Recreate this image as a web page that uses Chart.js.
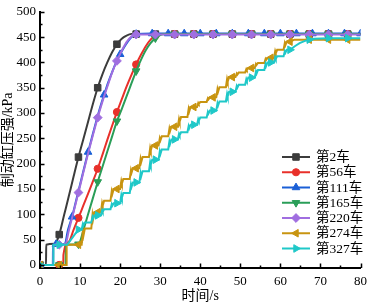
<!DOCTYPE html>
<html>
<head>
<meta charset="utf-8">
<script src="https://cdn.jsdelivr.net/npm/chart.js@4/dist/chart.umd.min.js"></script>
<style>
  html, body { margin: 0; padding: 0; background: #fff; }
  #wrap { width: 373px; height: 307px; position: relative; }
</style>
</head>
<body>
<div id="wrap"><canvas id="grafico"></canvas></div>
<script>
// series names
var nombres = ['第2车', '第56车', '第111车', '第165车', '第220车', '第274车', '第327车'];

// 第2车
var t2 = [0, 1.5, 1.55, 3.7, 4.8, 6, 7.2, 8.4, 9.6, 10.8, 12, 13.2, 14.4, 15.6, 16.8, 18, 19.2, 20.4, 21.6, 22.8, 24,
  28.8, 33.6, 38.4, 43.2, 48, 52.8, 57.6, 62.4, 67.2, 72, 76.8, 80];
var p2 = [0, 0, 40, 42, 60, 98, 136, 175, 213, 248, 283, 318, 350, 377, 400, 420, 436, 447, 453, 456, 456,
  456, 456, 456, 456, 456, 456, 456, 456, 456, 456, 456, 456];

// 第56车
var t56 = [0, 4.8, 5.8, 5.85, 7.2, 8.4, 9.6, 10.8, 12, 13.2, 14.4, 15.6, 16.8, 18, 19.2, 20.4, 21.6, 22.8, 24,
  25.2, 26.4, 27.6, 28.8, 30, 33.6, 38.4, 43.2, 48, 52.8, 57.6, 62.4, 67.2, 72, 76.8, 80];
var p56 = [0, 0, 0, 20, 46, 70, 93, 117, 141, 165, 190, 218, 247, 275, 302, 327, 352, 375, 396,
  415, 432, 445, 453, 456, 456, 456, 456, 456, 456, 456, 456, 456, 456, 456, 456];

// 第111车
var t111 = [0, 3.2, 3.25, 4, 6.2, 7, 8, 9, 10, 11, 12, 13, 14, 15, 16, 17, 18, 19, 20, 21, 22, 23, 24,
  28, 32, 36, 40, 44, 48, 52, 56, 60, 64, 68, 72, 76, 80];
var p111 = [0, 0, 40, 41, 42, 70, 95, 127, 159, 191, 223, 253, 283, 311, 336, 360, 381, 400, 416, 430, 442, 451, 456,
  457, 457, 457, 457, 457, 457, 457, 457, 457, 457, 457, 457, 457, 457];

// 第165车
var t165 = [0, 4.8, 6.4, 6.45, 9.6, 9.8, 10.8, 12, 13.2, 14.4, 15.6, 16.8, 18, 19.2, 20.4, 21.6, 22.8, 24,
  25.2, 26.4, 27.6, 28.8, 30, 31.2, 33.6, 38.4, 43.2, 48, 52.8, 57.6, 62.4, 67.2, 72, 76.8, 80];
var p165 = [0, 0, 0, 40, 41, 42, 68, 100, 132, 164, 194, 224, 254, 284, 308, 333, 358, 383,
  405, 424, 438, 448, 454, 456, 456, 456, 456, 456, 456, 456, 456, 456, 456, 456, 456];

// 第220车
var t220 = [0, 3.3, 3.35, 4.8, 6.4, 7.2, 8.4, 9.6, 10.8, 12, 13.2, 14.4, 15.6, 16.8, 18, 19.2, 20.4, 21.6, 22.8, 24,
  28.8, 33.6, 38.4, 43.2, 48, 52.8, 57.6, 62.4, 67.2, 72, 76.8, 80];
var p220 = [0, 0, 40, 40, 42, 68, 105, 143, 182, 220, 256, 291, 323, 352, 380, 403, 423, 440, 451, 455,
  455, 455, 455, 455, 455, 455, 455, 455, 455, 455, 455, 455];

// 第274车
var t274 = [0, 4.8, 6.6, 6.65, 9.6,
  10.4, 10.7, 10.85, 11.2, 12.8, 13.1, 13.25, 13.6, 14.4,
  15.2, 15.5, 15.65, 16.0, 17.6, 17.9, 18.05, 18.4, 19.2,
  20.0, 20.3, 20.45, 20.8, 22.4, 22.7, 22.85, 23.2, 24,
  24.8, 25.1, 25.25, 25.6, 27.2, 27.5, 27.65, 28.0, 28.8,
  29.6, 29.9, 30.05, 30.4, 32.0, 32.3, 32.45, 32.8, 33.6,
  34.4, 34.7, 34.85, 35.2, 36.8, 37.1, 37.25, 37.6, 38.4,
  39.2, 39.5, 39.65, 40.0, 41.6, 41.9, 42.05, 42.4, 43.2,
  44.0, 44.3, 44.45, 44.8, 46.4, 46.7, 46.85, 47.2, 48,
  48.8, 49.1, 49.25, 49.6, 51.2, 51.5, 51.65, 52.0, 52.8,
  53.6, 53.9, 54.05, 54.4, 56.0, 56.3, 56.45, 56.8, 57.6,
  58.4, 58.7, 58.85, 59.2, 60.8, 61.1, 61.25, 61.6, 62.4,
  63.5, 67.2, 72, 76.8, 80];
var p274 = [0, 0, 0, 40, 40,
  40, 66, 58, 72, 72, 98, 90, 104, 104,
  104, 122, 117, 127, 127, 145, 140, 150, 150,
  150, 166, 161, 170, 170, 187, 182, 191, 191,
  191, 209, 203, 213, 213, 231, 226, 236, 236,
  236, 250, 246, 254, 254, 269, 264, 273, 273,
  273, 288, 283, 292, 292, 308, 303, 312, 312,
  312, 320, 318, 322, 322, 329, 327, 331, 331,
  331, 347, 342, 351, 351, 367, 362, 371, 371,
  371, 378, 376, 380, 380, 387, 385, 389, 389,
  389, 397, 395, 399, 399, 407, 405, 409, 409,
  409, 422, 418, 425, 425, 438, 434, 441, 441,
  445, 445, 445, 445, 445];

// 第327车
var t327 = [0, 3.3, 3.35, 4.8, 6.8, 9.6,
  10.4, 10.7, 10.85, 11.2, 12.8, 13.1, 13.25, 13.6, 14.4,
  15.2, 15.5, 15.65, 16.0, 17.6, 17.9, 18.05, 18.4, 19.2,
  20.0, 20.3, 20.45, 20.8, 22.4, 22.7, 22.85, 23.2, 24,
  24.8, 25.1, 25.25, 25.6, 27.2, 27.5, 27.65, 28.0, 28.8,
  29.6, 29.9, 30.05, 30.4, 32.0, 32.3, 32.45, 32.8, 33.6,
  34.4, 34.7, 34.85, 35.2, 36.8, 37.1, 37.25, 37.6, 38.4,
  39.2, 39.5, 39.65, 40.0, 41.6, 41.9, 42.05, 42.4, 43.2,
  44.0, 44.3, 44.45, 44.8, 46.4, 46.7, 46.85, 47.2, 48,
  48.8, 49.1, 49.25, 49.6, 51.2, 51.5, 51.65, 52.0, 52.8,
  53.6, 53.9, 54.05, 54.4, 56.0, 56.3, 56.45, 56.8, 57.6,
  58.4, 58.7, 58.85, 59.2, 60.8, 61.1, 61.25, 61.6, 62.4,
  63.6, 64.8, 66, 67.2, 68.4, 72, 76.8, 80];
var p327 = [0, 0, 40, 40, 40, 70,
  70, 81, 78, 84, 84, 95, 92, 98, 98,
  98, 108, 105, 110, 110, 120, 117, 122, 122,
  122, 138, 133, 142, 142, 159, 154, 163, 163,
  163, 181, 175, 185, 185, 203, 198, 208, 208,
  208, 224, 219, 228, 228, 244, 239, 248, 248,
  248, 259, 256, 262, 262, 274, 270, 277, 277,
  277, 288, 285, 291, 291, 302, 299, 305, 305,
  305, 319, 315, 323, 323, 338, 333, 342, 342,
  342, 353, 350, 356, 356, 367, 364, 370, 370,
  370, 382, 378, 385, 385, 397, 393, 400, 400,
  400, 410, 407, 412, 412, 422, 419, 425, 425,
  432, 438, 442, 445, 447, 448, 448, 448];

var ticksX = [0, 10, 20, 30, 40, 50, 60, 70, 80];
var ticksY = [0, 50, 100, 150, 200, 250, 300, 350, 400, 450, 500];

var SERIF = "'Liberation Serif', 'Times New Roman', serif";
var FUENTE = "'Liberation Serif', 'Noto Sans CJK SC', serif";

function puntos(t, p) {
  return t.map(function (x, i) { return { x: x, y: p[i] }; });
}

// marker every few seconds, as in the original plot
function marcador(radio, paso) {
  return function (ctx) {
    var x = ctx.raw ? ctx.raw.x : 0;
    var k = x / paso;
    return Math.abs(k - Math.round(k)) < 1e-6 ? radio : 0;
  };
}

var series = [
  { t: t2,   p: p2,   color: '#3c3c3c', estilo: 'rect',     rot: 0,   r: 4.6, paso: 4.8, suave: true },
  { t: t56,  p: p56,  color: '#e8302a', estilo: 'circle',   rot: 0,   r: 3.6, paso: 4.8, suave: true },
  { t: t111, p: p111, color: '#1a5fd6', estilo: 'triangle', rot: 0,   r: 4.4, paso: 4,   suave: true },
  { t: t165, p: p165, color: '#2a9e58', estilo: 'triangle', rot: 180, r: 4.4, paso: 4.8, suave: true },
  { t: t220, p: p220, color: '#a06ee0', estilo: 'rectRot',  rot: 0,   r: 4.4, paso: 4.8, suave: true },
  { t: t274, p: p274, color: '#c89410', estilo: 'triangle', rot: -90, r: 4.4, paso: 4.8, suave: false },
  { t: t327, p: p327, color: '#1fc8c8', estilo: 'triangle', rot: 90,  r: 4.4, paso: 4.8, suave: false }
];

var datasets = series.map(function (s, i) {
  return {
    label: nombres[i],
    data: puntos(s.t, s.p),
    borderColor: s.color,
    backgroundColor: s.color,
    borderWidth: 2,
    pointStyle: s.estilo,
    rotation: s.rot,
    pointRadius: marcador(s.r, s.paso),
    pointBorderWidth: 1,
    pointHoverRadius: 0,
    cubicInterpolationMode: s.suave ? 'monotone' : 'default',
    tension: 0,
    order: series.length - i
  };
});

// inward ticks with minor ticks, like Origin
var marcasEjes = {
  id: 'marcasEjes',
  afterDraw: function (chart) {
    var ctx = chart.ctx;
    var a = chart.chartArea;
    var sx = chart.scales.x, sy = chart.scales.y;
    ctx.save();
    ctx.strokeStyle = '#000';
    ctx.lineWidth = 1.5;
    ctx.beginPath();
    for (var v = 0; v <= 80; v += 5) {
      var px = Math.round(sx.getPixelForValue(v)) + 0.5;
      var l = v % 10 === 0 ? 4.5 : 2.5;
      ctx.moveTo(px, a.bottom);
      ctx.lineTo(px, a.bottom - l);
    }
    for (var w = 0; w <= 500; w += 25) {
      var py = Math.round(sy.getPixelForValue(w)) + 0.5;
      var m = w % 50 === 0 ? 4.5 : 2.5;
      ctx.moveTo(a.left, py);
      ctx.lineTo(a.left + m, py);
    }
    ctx.stroke();
    ctx.restore();
  }
};

// legend with line + marker inside the plot
var leyenda = {
  id: 'leyenda',
  afterDraw: function (chart) {
    var ctx = chart.ctx;
    var x0 = 282, x1 = 310, xm = 296, xt = 316, y0 = 157, dy = 15.25;
    ctx.save();
    ctx.font = '13.5px ' + FUENTE;
    ctx.textBaseline = 'middle';
    ctx.textAlign = 'left';
    series.forEach(function (s, i) {
      var y = y0 + i * dy;
      ctx.strokeStyle = s.color;
      ctx.fillStyle = s.color;
      ctx.lineWidth = 2;
      ctx.beginPath();
      ctx.moveTo(x0, y);
      ctx.lineTo(x1, y);
      ctx.stroke();
      ctx.lineWidth = 1;
      Chart.helpers.drawPoint(ctx, { pointStyle: s.estilo, rotation: s.rot, radius: s.r, borderWidth: 1 }, xm, y);
      ctx.fillStyle = '#000';
      ctx.fillText(nombres[i], xt, y + 0.5);
    });
    ctx.restore();
  }
};

var ctx = document.getElementById('grafico');
new Chart(ctx, {
  type: 'line',
  data: { datasets: datasets },
  options: {
    responsive: true,
    maintainAspectRatio: false,
    animation: false,
    layout: { padding: { top: 6, right: 10, left: 0, bottom: 0 } },
    plugins: {
      legend: { display: false },
      tooltip: { enabled: false }
    },
    scales: {
      x: {
        type: 'linear',
        min: 0,
        max: 80,
        afterBuildTicks: function (scale) {
          scale.ticks = ticksX.map(function (v) { return { value: v }; });
        },
        afterFit: function (scale) { scale.height = 39; },
        grid: { display: false, drawTicks: false },
        border: { display: true, color: '#000', width: 2 },
        ticks: { color: '#000', padding: 6, maxRotation: 0, font: { family: SERIF, size: 13 } },
        title: {
          display: true,
          text: '时间/s',
          color: '#000',
          padding: { top: 0, bottom: 2 },
          font: { family: FUENTE, size: 14 }
        }
      },
      y: {
        type: 'linear',
        min: -6,
        max: 500,
        afterBuildTicks: function (scale) {
          scale.ticks = ticksY.map(function (v) { return { value: v }; });
        },
        afterFit: function (scale) { scale.width = 40; },
        grid: { display: false, drawTicks: false },
        border: { display: true, color: '#000', width: 2 },
        ticks: { color: '#000', padding: 4, font: { family: SERIF, size: 13 } },
        title: {
          display: true,
          text: '制动缸压强/kPa',
          color: '#000',
          padding: { top: 0, bottom: 0 },
          font: { family: FUENTE, size: 14 }
        }
      }
    }
  },
  plugins: [marcasEjes, leyenda]
});
</script>
</body>
</html>
